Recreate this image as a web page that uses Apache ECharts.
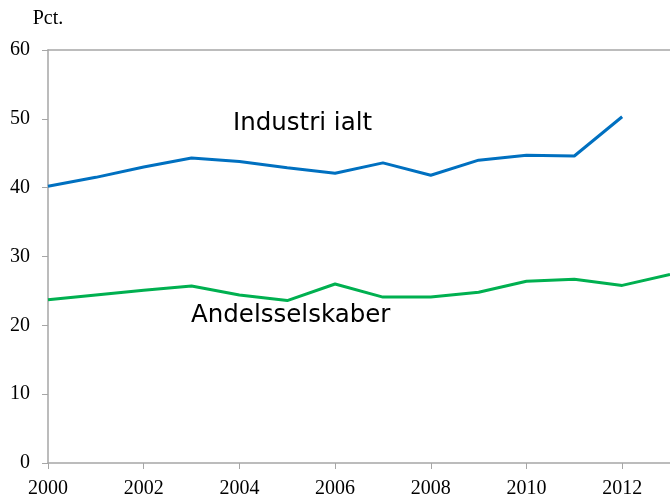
<!DOCTYPE html>
<html>
<head>
<meta charset="utf-8">
<script src="https://cdn.jsdelivr.net/npm/echarts@6/dist/echarts.min.js"></script>
<style>
  html, body { margin: 0; padding: 0; background: #fff; }
  #container { width: 670px; height: 499px; }
</style>
</head>
<body>
<div id="container"></div>
<script>
var years = [2000, 2001, 2002, 2003, 2004, 2005, 2006, 2007, 2008, 2009, 2010, 2011, 2012, 2013];
var industri = [40.2, 41.5, 43.0, 44.3, 43.8, 42.9, 42.1, 43.6, 41.8, 44.0, 44.7, 44.6, 50.3, null];
var andels = [23.7, 24.4, 25.1, 25.7, 24.4, 23.6, 26.0, 24.1, 24.1, 24.8, 26.4, 26.7, 25.8, 27.4];
var yTicks = [0, 10, 20, 30, 40, 50, 60];

function pairs(vals) {
    var out = [];
    for (var i = 0; i < years.length; i++) {
        if (vals[i] != null) out.push([years[i], vals[i]]);
    }
    return out;
}

window.onload = function () {
    var dom = document.getElementById("container");
    var myChart = echarts.init(dom);
    var axisGray = '#a6a6a6';
    var serif = '"Liberation Serif", "Times New Roman", serif';
    var sans = '24.5px "DejaVu Sans", Verdana, sans-serif';
    var option = {
        animation: false,
        grid: { left: 48, top: 50, width: 630, height: 414 },
        xAxis: [{
            type: 'value',
            min: 2000,
            max: 2013,
            interval: 2,
            axisLine: { lineStyle: { color: axisGray, width: 1.5 } },
            axisTick: { length: 6, lineStyle: { color: axisGray } },
            splitLine: { show: false },
            axisLabel: {
                color: '#000',
                fontFamily: serif,
                fontSize: 20,
                margin: 16,
                showMaxLabel: false,
                formatter: function (v) { return v % 2 === 0 ? String(v) : ''; }
            }
        }, {
            type: 'value',
            position: 'top',
            min: 2000,
            max: 2013,
            axisLine: { show: true, lineStyle: { color: axisGray, width: 1.5 } },
            axisTick: { show: false },
            axisLabel: { show: false },
            splitLine: { show: false }
        }],
        yAxis: {
            type: 'value',
            min: yTicks[0],
            max: yTicks[yTicks.length - 1],
            interval: 10,
            name: 'Pct.',
            nameLocation: 'end',
            nameGap: 21,
            nameTextStyle: { color: '#000', fontFamily: serif, fontSize: 20, align: 'center' },
            axisLine: { show: true, lineStyle: { color: axisGray, width: 1.5 } },
            axisTick: { show: true, length: 6, lineStyle: { color: axisGray } },
            splitLine: { show: false },
            axisLabel: { color: '#000', fontFamily: serif, fontSize: 20, margin: 18 }
        },
        graphic: [
            {
                type: 'text', left: 233, top: 111,
                style: { text: 'Industri ialt', fill: '#000', font: sans }
            },
            {
                type: 'text', left: 191, top: 303,
                style: { text: 'Andelsselskaber', fill: '#000', font: sans }
            }
        ],
        series: [{
            name: 'Industri ialt',
            type: 'line',
            data: pairs(industri),
            showSymbol: false,
            lineStyle: { color: '#0070c0', width: 3 },
            itemStyle: { color: '#0070c0' }
        }, {
            name: 'Andelsselskaber',
            type: 'line',
            data: pairs(andels),
            showSymbol: false,
            lineStyle: { color: '#00b050', width: 3 },
            itemStyle: { color: '#00b050' }
        }]
    };
    myChart.setOption(option);
};
</script>
</body>
</html>
